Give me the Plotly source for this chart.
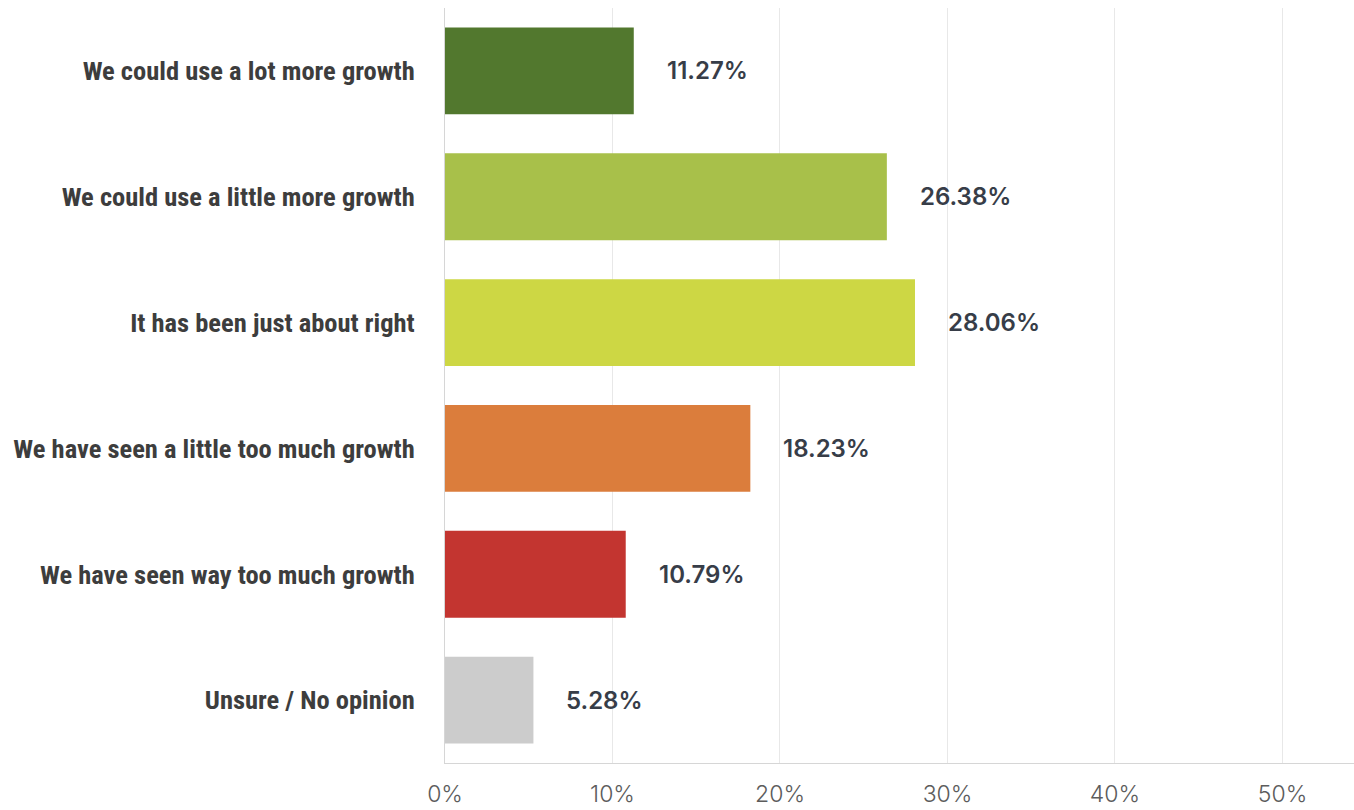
import plotly.graph_objects as go

categories = [
    "We could use a lot more growth",
    "We could use a little more growth",
    "It has been just about right",
    "We have seen a little too much growth",
    "We have seen way too much growth",
    "Unsure / No opinion",
]
values = [11.27, 26.38, 28.06, 18.23, 10.79, 5.28]
bar_colors = ["#52782e", "#a8c04a", "#cdd744", "#db7d3c", "#c33530", "#cccccc"]
tick_values = [0, 10, 20, 30, 40, 50]
tick_labels = ["0%", "10%", "20%", "30%", "40%", "50%"]

fig = go.Figure(
    go.Bar(
        x=values,
        y=categories,
        orientation="h",
        marker=dict(color=bar_colors, line=dict(width=0)),
        hoverinfo="skip",
    )
)

# value labels just to the right of each bar
for cat, val in zip(categories, values):
    fig.add_annotation(
        x=val, y=cat, text=f"{val:.2f}%",
        xanchor="left", yanchor="middle", xshift=31, showarrow=False,
        font=dict(family="Inter, Noto Sans, sans-serif", size=24, color="#373d48", weight=600),
    )

fig.update_layout(
    width=1354, height=810,
    margin=dict(l=445, r=0, t=8, b=47),
    paper_bgcolor="white", plot_bgcolor="white",
    bargap=0.31,
    showlegend=False,
    xaxis=dict(
        range=[0, 54.27],
        tickvals=tick_values, ticktext=tick_labels,
        showgrid=True, gridcolor="#e8e8e8", gridwidth=1,
        showline=True, linecolor="#d6d6d6", linewidth=1,
        zeroline=False, ticks="",
        tickfont=dict(family="Inter, Noto Sans, sans-serif", size=23, color="#5c5c5c", weight=300),
        ticklabelstandoff=10,
        automargin=False,
        fixedrange=True,
    ),
    yaxis=dict(
        categoryorder="array", categoryarray=categories[::-1],
        showgrid=False, zeroline=False,
        showline=True, linecolor="#d6d6d6", linewidth=1,
        ticks="", ticklabelstandoff=24,
        automargin=False,
        tickfont=dict(family="Roboto Condensed, Liberation Sans Narrow, DejaVu Sans Condensed, sans-serif",
                      size=26.5, color="#3d3d3d", weight=700),
        fixedrange=True,
    ),
)

fig.write_html("out.html", config={"displayModeBar": False})
